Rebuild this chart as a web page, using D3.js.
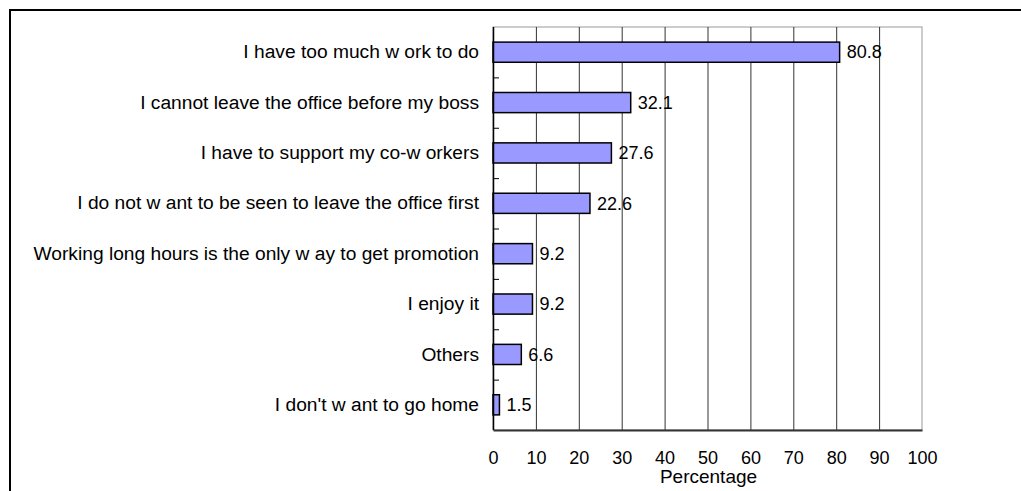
<!DOCTYPE html>
<html>
<head>
<meta charset="utf-8">
<script src="https://cdn.jsdelivr.net/npm/d3@7"></script>
<style>
  html, body { margin: 0; padding: 0; background: #fff; }
  svg { display: block; font-family: "Liberation Sans", Arial, sans-serif; }
</style>
</head>
<body>
<svg id="chart" width="1021" height="491"></svg>
<script>
// Reasons for working long hours (share of respondents, %)
const categories = [
  "I have too much w ork to do",
  "I cannot leave the office before my boss",
  "I have to support my co-w orkers",
  "I do not w ant to be seen to leave the office first",
  "Working long hours is the only w ay to get promotion",
  "I enjoy it",
  "Others",
  "I don't w ant to go home"
];
const values = [80.8, 32.1, 27.6, 22.6, 9.2, 9.2, 6.6, 1.5];
const xTicks = [0, 10, 20, 30, 40, 50, 60, 70, 80, 90, 100];
const xTitle = "Percentage";

const svg = d3.select("#chart");
const plotL = 493, plotR = 922, plotT = 27, plotB = 430;

// outer frame
svg.append("rect")
  .attr("x", 10).attr("y", 10)
  .attr("width", 1030).attr("height", 500)
  .attr("fill", "none").attr("stroke", "#000").attr("stroke-width", 2);

const x = d3.scaleLinear().domain([0, 100]).range([plotL, plotR]);
const y = d3.scaleBand().domain(categories).range([plotT, plotB]).paddingInner(0.6).paddingOuter(0.3);
const band = d3.scaleBand().domain(categories).range([plotT, plotB]);

// plot area border
svg.append("rect")
  .attr("x", plotL).attr("y", plotT)
  .attr("width", plotR - plotL).attr("height", plotB - plotT)
  .attr("fill", "none").attr("stroke", "#999").attr("stroke-width", 1);

// vertical gridlines
svg.append("g")
  .selectAll("line")
  .data(xTicks.slice(1, -1))
  .join("line")
  .attr("x1", d => x(d) + 0.5).attr("x2", d => x(d) + 0.5)
  .attr("y1", plotT).attr("y2", plotB)
  .attr("stroke", "#333").attr("stroke-width", 1);

// bars
svg.append("g")
  .selectAll("rect")
  .data(values)
  .join("rect")
  .attr("x", x(0))
  .attr("y", (d, i) => y(categories[i]))
  .attr("width", d => x(d) - x(0))
  .attr("height", y.bandwidth())
  .attr("fill", "#9999FF")
  .attr("stroke", "#000").attr("stroke-width", 1.5);

// value labels
svg.append("g")
  .selectAll("text")
  .data(values)
  .join("text")
  .attr("x", d => x(d) + 7)
  .attr("y", (d, i) => band(categories[i]) + band.bandwidth() / 2)
  .attr("dy", "0.35em")
  .attr("font-size", 18)
  .attr("fill", "#000")
  .text(d => d.toFixed(1));

// category axis
const yAxis = d3.axisLeft(band).tickSize(0).tickPadding(14);
const gy = svg.append("g").attr("transform", `translate(${plotL},0)`).call(yAxis);
gy.select(".domain").remove();
gy.selectAll("text").attr("font-size", 19.2).attr("fill", "#000").attr("font-family", null);

// category boundary ticks (inside the axis)
svg.append("g")
  .selectAll("line")
  .data(categories.slice(1))
  .join("line")
  .attr("x1", plotL).attr("x2", plotL + 6)
  .attr("y1", d => band(d) + 0.5).attr("y2", d => band(d) + 0.5)
  .attr("stroke", "#000").attr("stroke-width", 1);

// left axis line
svg.append("line")
  .attr("x1", plotL + 0.5).attr("x2", plotL + 0.5)
  .attr("y1", plotT).attr("y2", plotB)
  .attr("stroke", "#000").attr("stroke-width", 1.5);

// value axis
const xAxis = d3.axisBottom(x).tickValues(xTicks).tickSize(0).tickPadding(21).tickFormat(d3.format("d"));
const gx = svg.append("g").attr("transform", `translate(0,${plotB})`).call(xAxis);
gx.select(".domain").attr("stroke", "#333").attr("stroke-width", 2);
gx.selectAll("text").attr("font-size", 18).attr("fill", "#000").attr("font-family", null);

// axis title
svg.append("text")
  .attr("x", (plotL + plotR) / 2 + 1)
  .attr("y", 483)
  .attr("text-anchor", "middle")
  .attr("font-size", 19)
  .attr("fill", "#000")
  .text(xTitle);
</script>
</body>
</html>
